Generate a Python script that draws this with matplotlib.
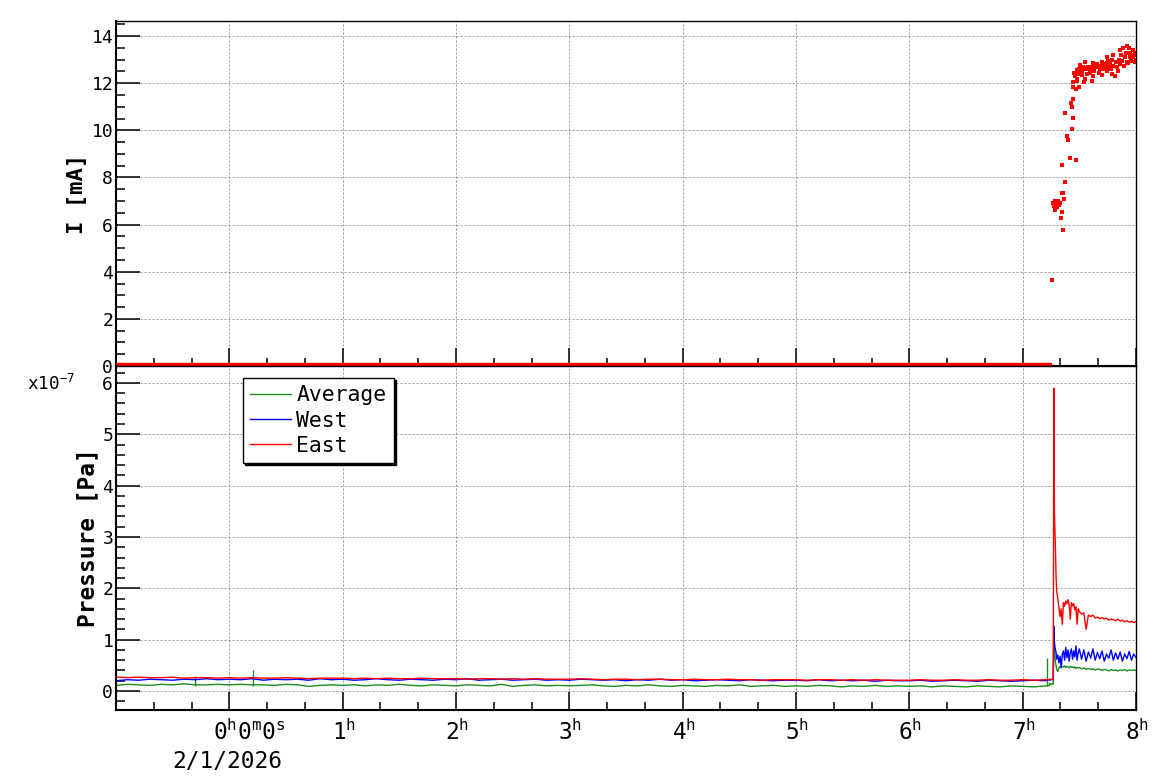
import matplotlib
matplotlib.use('Agg')
import matplotlib.pyplot as plt
import numpy as np
from matplotlib.ticker import MultipleLocator
from matplotlib.lines import Line2D

# ---- data (hours since 2/1/2026 0:00) ----
hours = [0, 1, 2, 3, 4, 5, 6, 7, 8]

# beam current I [mA]: zero until beam comes on
i_zero_start, i_zero_end = -1.0, 7.26
i_t = [7.259, 7.268, 7.276, 7.285, 7.285, 7.294, 7.303, 7.312, 7.321, 7.330,
       7.339, 7.347, 7.347, 7.356, 7.356, 7.365, 7.374, 7.347, 7.418, 7.471,
       7.400, 7.389, 7.436, 7.445, 7.374, 7.424, 7.436, 7.445, 7.445, 7.471,
       7.497, 7.445, 7.454, 7.480, 7.506, 7.550, 7.541, 7.594, 7.612, 7.621,
       7.665, 7.700, 7.744, 7.744, 7.788, 7.815, 7.841, 7.797, 7.859, 7.885,
       7.921, 7.947, 7.974, 7.991, 8.000, 7.903, 7.930,
       7.48, 7.49, 7.50, 7.52, 7.53, 7.56, 7.57, 7.58, 7.60, 7.63,
       7.64, 7.66, 7.68, 7.69, 7.71, 7.72, 7.73, 7.75, 7.76, 7.77,
       7.78, 7.80, 7.82, 7.83, 7.85, 7.86, 7.87, 7.88, 7.89, 7.91,
       7.92, 7.94, 7.95, 7.96, 7.97, 7.98, 7.99, 7.52, 7.55, 7.62,
       7.67, 7.70, 7.74, 7.79, 7.465, 7.475, 7.51, 7.54, 7.59, 7.61]
i_val = [3.65, 6.90, 6.80, 7.00, 6.60, 6.90, 6.75, 7.00, 6.85, 6.90,
         6.30, 6.55, 7.35, 5.75, 7.35, 7.10, 7.80, 8.51, 8.81, 8.73,
         9.59, 9.76, 10.05, 10.52, 10.73, 11.14, 10.99, 11.33, 11.84, 11.75,
         11.84, 12.05, 12.43, 12.56, 12.77, 12.90, 12.05, 12.43, 12.09, 12.85,
         12.69, 12.90, 13.10, 12.85, 12.98, 12.30, 12.50, 13.20, 13.40, 13.50,
         13.60, 13.30, 13.10, 13.30, 13.00, 13.10, 12.85,
         12.20, 12.40, 12.60, 12.50, 12.70, 12.60, 12.40, 12.70, 12.60, 12.50,
         12.70, 12.80, 12.60, 12.75, 12.60, 12.80, 12.70, 12.95, 12.70, 12.85,
         12.60, 12.75, 12.90, 12.70, 13.00, 12.80, 13.20, 12.95, 12.75, 13.30,
         12.90, 13.50, 13.10, 12.95, 13.40, 13.20, 12.90, 12.35, 12.20, 12.30,
         12.45, 12.35, 12.50, 12.40, 12.30, 12.10, 12.55, 12.65, 12.55, 12.70]

# pressure [1e-7 Pa], quiet period sampled every 0.1 h from -1.0 to 7.2 h
p_flat_t = np.round(np.arange(-1.0, 7.25, 0.1), 2)
east_flat = [0.27, 0.26, 0.27, 0.26, 0.26, 0.27, 0.25, 0.26, 0.26, 0.25,
             0.26, 0.25, 0.26, 0.25, 0.25, 0.26, 0.25, 0.24, 0.25, 0.25,
             0.25, 0.24, 0.25, 0.24, 0.25, 0.24, 0.24, 0.25, 0.24, 0.24,
             0.24, 0.23, 0.24, 0.24, 0.23, 0.24, 0.23, 0.24, 0.23, 0.23,
             0.23, 0.24, 0.23, 0.22, 0.23, 0.23, 0.22, 0.23, 0.23, 0.22,
             0.22, 0.23, 0.22, 0.22, 0.23, 0.22, 0.22, 0.21, 0.22, 0.22,
             0.22, 0.21, 0.22, 0.22, 0.21, 0.22, 0.21, 0.22, 0.21, 0.21,
             0.21, 0.22, 0.21, 0.21, 0.22, 0.21, 0.21, 0.22, 0.21, 0.21,
             0.22, 0.21, 0.22]
west_flat = [0.20, 0.22, 0.21, 0.23, 0.22, 0.21, 0.23, 0.22, 0.24, 0.22,
             0.23, 0.22, 0.24, 0.21, 0.23, 0.22, 0.23, 0.21, 0.24, 0.22,
             0.23, 0.21, 0.22, 0.24, 0.22, 0.21, 0.23, 0.22, 0.21, 0.23,
             0.22, 0.24, 0.21, 0.22, 0.23, 0.21, 0.22, 0.23, 0.21, 0.22,
             0.21, 0.23, 0.22, 0.21, 0.22, 0.20, 0.22, 0.21, 0.23, 0.21,
             0.22, 0.20, 0.21, 0.22, 0.21, 0.20, 0.22, 0.21, 0.20, 0.21,
             0.21, 0.20, 0.22, 0.20, 0.21, 0.20, 0.21, 0.19, 0.21, 0.20,
             0.20, 0.21, 0.19, 0.20, 0.21, 0.20, 0.19, 0.21, 0.20, 0.19,
             0.20, 0.21, 0.20]
avg_flat = [0.11, 0.13, 0.12, 0.11, 0.13, 0.12, 0.14, 0.12, 0.12, 0.13,
            0.12, 0.13, 0.12, 0.12, 0.11, 0.13, 0.12, 0.09, 0.11, 0.12,
            0.11, 0.12, 0.10, 0.12, 0.11, 0.13, 0.11, 0.10, 0.12, 0.11,
            0.10, 0.12, 0.11, 0.10, 0.13, 0.09, 0.11, 0.12, 0.10, 0.11,
            0.10, 0.11, 0.12, 0.10, 0.09, 0.11, 0.10, 0.12, 0.10, 0.09,
            0.11, 0.10, 0.09, 0.11, 0.10, 0.12, 0.09, 0.10, 0.11, 0.09,
            0.10, 0.09, 0.11, 0.10, 0.08, 0.10, 0.09, 0.11, 0.09, 0.10,
            0.09, 0.10, 0.08, 0.10, 0.09, 0.08, 0.10, 0.09, 0.08, 0.10,
            0.09, 0.08, 0.10]
# single-sample spikes in the average
avg_spike_t = [-0.30, 0.21, 7.215]
avg_spike_v = [0.30, 0.40, 0.65]

# beam-on period
p_tail_t = [7.23, 7.24, 7.25, 7.26, 7.27, 7.275, 7.28, 7.285, 7.29, 7.295,
            7.30, 7.31, 7.32, 7.33, 7.34, 7.35, 7.36, 7.37, 7.38, 7.39,
            7.40, 7.41, 7.42, 7.43, 7.44, 7.45, 7.46, 7.47, 7.48, 7.49, 7.50,
            7.52, 7.54, 7.56, 7.58, 7.60, 7.62, 7.64, 7.66, 7.68, 7.70,
            7.72, 7.74, 7.76, 7.78, 7.80, 7.82, 7.84, 7.86, 7.88, 7.90,
            7.92, 7.94, 7.96, 7.98, 8.00]
east_tail = [0.22, 0.23, 0.22, 0.23, 0.23, 5.90, 3.50, 3.10, 2.70, 2.20,
             1.95, 1.80, 1.62, 1.45, 1.60, 1.30, 1.72, 1.65, 1.75, 1.70,
             1.78, 1.68, 1.40, 1.72, 1.66, 1.70, 1.58, 1.64, 1.30, 1.60, 1.55,
             1.50, 1.52, 1.20, 1.48, 1.45, 1.48, 1.42, 1.44, 1.41, 1.43,
             1.40, 1.42, 1.38, 1.40, 1.39, 1.37, 1.40, 1.36, 1.38, 1.35,
             1.37, 1.34, 1.36, 1.33, 1.35]
west_tail = [0.22, 0.21, 0.23, 0.22, 0.22, 1.25, 0.95, 0.85, 0.80, 0.75,
             0.62, 0.70, 0.55, 0.68, 0.45, 0.72, 0.78, 0.60, 0.85, 0.65,
             0.80, 0.58, 0.75, 0.82, 0.62, 0.78, 0.66, 0.88, 0.60, 0.74, 0.82,
             0.62, 0.80, 0.58, 0.76, 0.64, 0.82, 0.60, 0.75, 0.63, 0.78,
             0.58, 0.72, 0.64, 0.80, 0.60, 0.74, 0.62, 0.76, 0.58, 0.72,
             0.63, 0.77, 0.60, 0.72, 0.65]
avg_tail = [0.10, 0.15, 0.12, 0.14, 0.13, 1.27, 0.80, 0.65, 0.55, 0.50,
            0.42, 0.38, 0.45, 0.48, 0.46, 0.48, 0.47, 0.49, 0.46, 0.48,
            0.47, 0.45, 0.48, 0.46, 0.47, 0.45, 0.47, 0.44, 0.46, 0.45, 0.46,
            0.43, 0.45, 0.42, 0.44, 0.42, 0.43, 0.41, 0.43, 0.42, 0.40,
            0.42, 0.41, 0.39, 0.42, 0.40, 0.41, 0.39, 0.41, 0.40, 0.42,
            0.39, 0.41, 0.40, 0.41, 0.40]

c_avg, c_west, c_east = '#1f8c1f', '#0000ff', '#ff0000'

plt.rcParams['font.family'] = 'DejaVu Sans Mono'
plt.rcParams['mathtext.fontset'] = 'custom'
plt.rcParams['mathtext.rm'] = 'DejaVu Sans Mono'
plt.rcParams['mathtext.it'] = 'DejaVu Sans Mono'
plt.rcParams['mathtext.bf'] = 'DejaVu Sans Mono:bold'

W, H = 1158, 782
fig = plt.figure(figsize=(W / 100, H / 100), dpi=100)
ax1 = fig.add_axes([116 / W, 1 - 366 / H, 1020 / W, 345 / H])
ax2 = fig.add_axes([116 / W, 1 - 710 / H, 1020 / W, 344 / H])


def style(ax, ymajor, yminor):
    ax.set_xlim(-1, 8)
    ax.xaxis.set_major_locator(MultipleLocator(1))
    ax.xaxis.set_minor_locator(MultipleLocator(1 / 3))
    ax.yaxis.set_major_locator(MultipleLocator(ymajor))
    ax.yaxis.set_minor_locator(MultipleLocator(yminor))
    ax.tick_params(axis='x', which='major', direction='in', length=13, width=1.1,
                   top=False, labelbottom=False)
    ax.tick_params(axis='x', which='minor', direction='in', length=5.5, width=1.1, top=False)
    ax.tick_params(axis='y', which='major', direction='in', length=17, width=1.1,
                   right=False, labelsize=13, pad=2)
    ax.tick_params(axis='y', which='minor', direction='in', length=6.5, width=1.1, right=False)
    ax.grid(True, which='major', color='#999999', lw=0.72, linestyle=(0, (2, 2)))
    ax.set_axisbelow(True)
    for s in ['left', 'bottom']:
        ax.spines[s].set_linewidth(1.5)
    for s in ['top', 'right']:
        ax.spines[s].set_linewidth(1.0)


# ---- top: current ----
style(ax1, 2, 0.5)
ax1.set_ylim(0, 14.64)
ax1.plot([i_zero_start, i_zero_end], [0, 0], color=c_east, lw=4.6,
         solid_capstyle='butt', zorder=3)
ax1.plot(i_t, i_val, 's', ms=3, color=c_east, mec=c_east, mew=0)
ax1.set_ylabel('I [mA]', fontsize=16, fontweight='bold')
ax1.yaxis.set_label_coords(-0.0284, 0.5)

# ---- bottom: pressure ----
style(ax2, 1, 0.2)
ax2.set_ylim(-0.37, 6.33)
p_t = np.concatenate([p_flat_t, p_tail_t])
ax2.plot(p_t, avg_flat + avg_tail, color=c_avg, lw=1.0)
ax2.vlines(avg_spike_t, 0.1, avg_spike_v, color=c_avg, lw=1.0)
ax2.plot(p_t, west_flat + west_tail, color=c_west, lw=1.0)
ax2.plot(p_t, east_flat + east_tail, color=c_east, lw=1.0)
ax2.set_ylabel('Pressure [Pa]', fontsize=16.5, fontweight='bold')
ax2.yaxis.set_label_coords(-0.0167, 0.5)
fig.text(27 / W, 1 - 390 / H, 'x10$^{-7}$', fontsize=12.7, va='baseline', ha='left')

# time labels
for h in hours:
    if h == 0:
        ax2.text(-0.14, -0.087, '0$^{h}$0$^{m}$0$^{s}$', transform=ax2.get_xaxis_transform(),
                 ha='left', va='baseline', fontsize=16.4)
        ax2.text(-0.02, -0.169, '2/1/2026', transform=ax2.get_xaxis_transform(),
                 ha='center', va='baseline', fontsize=16.4)
    else:
        ax2.text(h + 0.01, -0.087, '%d$^{h}$' % h, transform=ax2.get_xaxis_transform(),
                 ha='center', va='baseline', fontsize=16.4)

handles = [Line2D([], [], color=c_avg, lw=1), Line2D([], [], color=c_west, lw=1),
           Line2D([], [], color=c_east, lw=1)]
leg = ax2.legend(handles, ['Average', 'West', 'East'], loc='upper left',
                 bbox_to_anchor=(243 / W, 1 - 378 / H), bbox_transform=fig.transFigure,
                 fancybox=False, edgecolor='black', framealpha=1, fontsize=15.4,
                 handlelength=1.9, handletextpad=0.25, borderpad=0.35, labelspacing=0.24,
                 borderaxespad=0, shadow={'color': 'black', 'alpha': 1, 'ox': 1.2, 'oy': -1.2})
leg.get_frame().set_linewidth(1.0)

fig.savefig('out.png', dpi=100)
